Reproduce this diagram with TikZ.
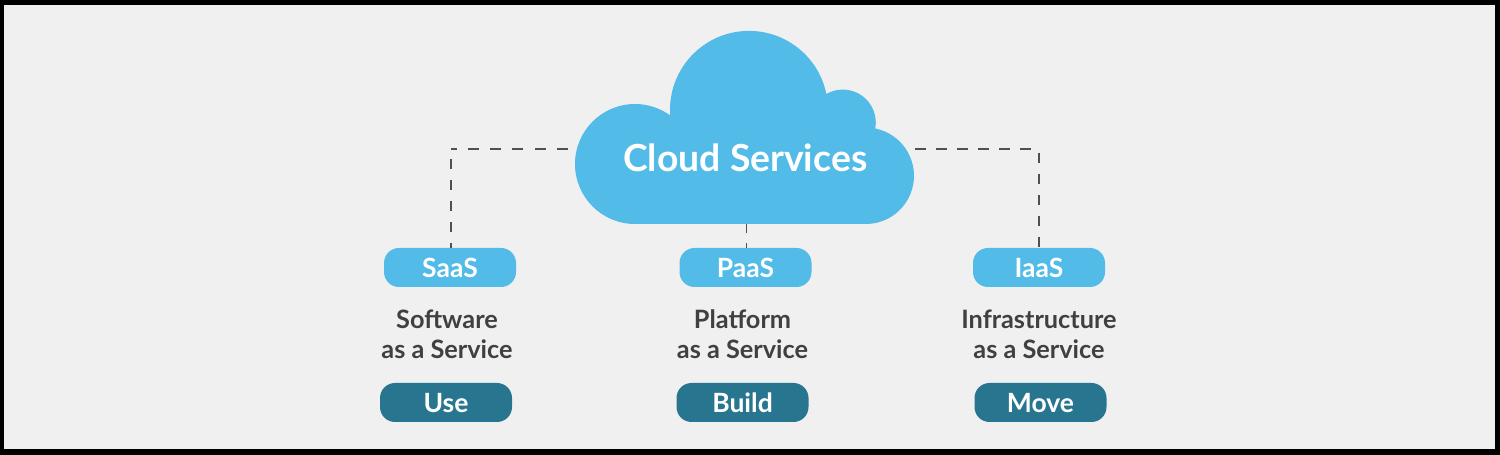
\documentclass[tikz,border=0pt]{standalone}
\usepackage{fontspec}
\setmainfont{Lato}
\definecolor{skyb}{HTML}{52BBE8}
\definecolor{tealb}{HTML}{287590}
\definecolor{bgc}{HTML}{F0F0F0}
\definecolor{txt}{HTML}{404040}
\definecolor{dashc}{HTML}{505050}
\tikzset{
  x=1pt,y=1pt,
  pill/.style={rounded corners=15pt,minimum width=132pt,minimum height=39pt,inner sep=0pt,text=white,font=\fontsize{26.5}{30}\selectfont\bfseries},
  lightpill/.style={pill,fill=skyb},
  darkpill/.style={pill,fill=tealb},
  pilltext/.style={inner sep=0pt,text=white,font=\fontsize{26.5}{30}\selectfont\bfseries,anchor=base},
  desc/.style={align=center,text=txt,inner sep=0pt,font=\fontsize{25.3}{30}\selectfont\bfseries},
  link/.style={draw=dashc,line width=1.2pt,dash pattern=on 10.5pt off 10.5pt},
}
\begin{document}
\begin{tikzpicture}
\useasboundingbox (0,0) rectangle (1500,455);
\fill[black] (0,0) rectangle (1500,455);
\fill[bgc] (4,6) rectangle (1495,450);
% cloud outline
\fill[skyb] (635,231) arc[start angle=270,end angle=54.1,radius=60]
  arc[start angle=184,end angle=11.6,radius=79]
  arc[start angle=119.9,end angle=-10.3,radius=33]
  arc[start angle=78.6,end angle=-90,radius=48.22] -- cycle;
\node[inner sep=0pt,text=white,font=\fontsize{37.3}{40}\selectfont\bfseries] (cloud) at (745.3,297) {Cloud Services};
% boxes
\node[lightpill] (saas) at (450,187.5) {};
\node[lightpill] (paas) at (745.5,187.5) {};
\node[lightpill] (iaas) at (1039,187.5) {};
\node[pilltext] (tsaas) at (450,177.2) {SaaS};
\node[pilltext] (tpaas) at (745.5,177.2) {PaaS};
\node[pilltext] (tiaas) at (1039,177.2) {IaaS};
\node[desc] (dsaas) at (447,121) {Software\\as a Service};
\node[desc] (dpaas) at (742.5,121) {Platform\\as a Service};
\node[desc] (diaas) at (1039,121) {Infrastructure\\as a Service};
\node[darkpill] (use) at (446,52.5) {};
\node[darkpill] (build) at (742.5,52.5) {};
\node[darkpill] (move) at (1040.5,52.5) {};
\node[pilltext] (tuse) at (446,42.2) {Use};
\node[pilltext] (tbuild) at (742.5,42.2) {Build};
\node[pilltext] (tmove) at (1040.5,42.2) {Move};
% connectors
\coordinate (cloudl) at (568,306);
\coordinate (cornerl) at (451,306);
\coordinate (startl) at (451,296);
\coordinate (cloudr) at (915,306);
\coordinate (cornerr) at (1039,306);
\coordinate (startr) at (1039,302);
\coordinate (cloudb) at (746.3,231);
\draw[link,dash pattern=on 11pt off 11.3pt] (cloudl) -- (cornerl);
\draw[link] (startl) -- (startl |- saas.north);
\draw[link] (cloudr) -- (cornerr);
\draw[link] (startr) -- (startr |- iaas.north);
\draw[link,line width=1pt,dash pattern=on 9pt off 10pt] (cloudb) -- (cloudb |- paas.north);
\end{tikzpicture}
\end{document}
